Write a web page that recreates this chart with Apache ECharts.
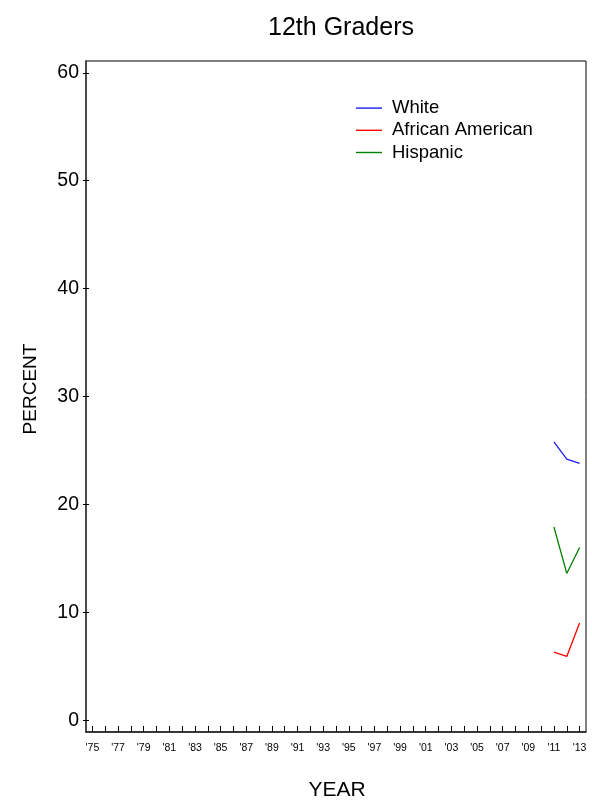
<!DOCTYPE html>
<html>
<head>
<meta charset="utf-8">
<script src="https://cdn.jsdelivr.net/npm/echarts@6/dist/echarts.min.js"></script>
<style>html,body{margin:0;padding:0;background:#fff}#c{width:592px;height:804px}</style>
</head>
<body>
<div id="c"></div>
<script>
var years = [];
for (var y = 1975; y <= 2013; y++) years.push(String(y));
var dataYears = ['2011', '2012', '2013'];
var white = [25.8, 24.2, 23.8];
var africanAmerican = [6.3, 5.9, 9.0];
var hispanic = [17.9, 13.6, 16.0];
var yTicks = [0, 10, 20, 30, 40, 50, 60];

function pairs(vals) { return dataYears.map(function (yr, i) { return [yr, vals[i]]; }); }

var FONT = 'Liberation Sans, Arial, sans-serif';
var chart = echarts.init(document.getElementById('c'), null, { renderer: 'canvas' });
chart.setOption({
  animation: false,
  backgroundColor: '#fff',
  title: {
    text: '12th Graders', left: 336, top: 11, textAlign: 'center',
    textStyle: { fontFamily: FONT, fontSize: 25, fontWeight: 'normal', color: '#000' }
  },
  legend: {
    orient: 'vertical', left: 356, top: 97, padding: 0, itemWidth: 26, itemHeight: 1.4, itemGap: 0,
    icon: 'rect', selectedMode: false,
    textStyle: { fontFamily: FONT, fontSize: 18.5, color: '#000', lineHeight: 22.2, padding: [0, 0, 0, 5] },
    data: ['White', 'African American', 'Hispanic']
  },
  grid: { left: 86, right: 6, top: 61, bottom: 72, show: true, borderColor: '#000', borderWidth: 1 },
  xAxis: {
    type: 'category', data: years, boundaryGap: true,
    axisLine: { show: true, onZero: false, lineStyle: { color: '#222', width: 1.5 } },
    axisTick: { show: true, inside: true, length: 6, alignWithLabel: true, interval: 0, lineStyle: { color: '#000', width: 1 } },
    axisLabel: { interval: 1, margin: 11, fontFamily: FONT, fontSize: 10.5, color: '#000',
      formatter: function (v) { return "'" + v.slice(2); } },
    splitLine: { show: false }
  },
  yAxis: [{
    type: 'value', min: -1.1, max: 61.1,
    axisLine: { show: true, lineStyle: { color: '#444', width: 1.8 } },
    axisTick: { show: true, inside: false, length: 3, customValues: yTicks, lineStyle: { color: '#000' } },
    axisLabel: { customValues: yTicks, margin: 7, fontFamily: FONT, fontSize: 19.5, color: '#000' },
    splitLine: { show: false }
  }, {
    type: 'value', min: -1.1, max: 61.1, position: 'left',
    axisLine: { show: false },
    axisTick: { show: true, inside: true, length: 3, customValues: yTicks, lineStyle: { color: '#000' } },
    axisLabel: { show: false, customValues: yTicks },
    splitLine: { show: false }
  }],
  series: [
    { name: 'White', type: 'line', data: pairs(white), symbol: 'none', color: '#1c1cff', lineStyle: { width: 1.3, color: '#1c1cff' } },
    { name: 'African American', type: 'line', data: pairs(africanAmerican), symbol: 'none', color: '#ff0000', lineStyle: { width: 1.3, color: '#ff0000' } },
    { name: 'Hispanic', type: 'line', data: pairs(hispanic), symbol: 'none', color: '#008000', lineStyle: { width: 1.3, color: '#008000' } }
  ],
  graphic: [
    { type: 'text', x: 31, y: 389, rotation: Math.PI / 2,
      style: { text: 'PERCENT', fontFamily: FONT, fontSize: 19, fill: '#000', align: 'center', verticalAlign: 'middle' } },
    { type: 'text', x: 337, y: 790,
      style: { text: 'YEAR', fontFamily: FONT, fontSize: 21, fill: '#000', align: 'center', verticalAlign: 'middle' } }
  ]
});
</script>
</body>
</html>
